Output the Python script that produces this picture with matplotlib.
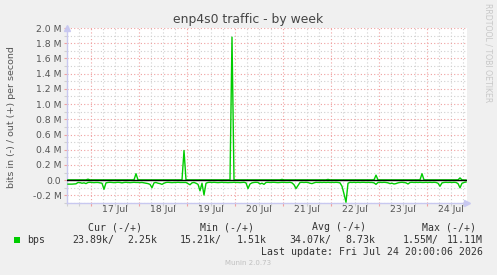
"""
Munin: enp4s0 traffic - by week
"""
import matplotlib
matplotlib.use('Agg')
import matplotlib.pyplot as plt
import numpy as np
from matplotlib.patches import Rectangle

# hourly averages from Jul 16 12:00 to Jul 24 20:00, kbit/s
in_k = [
    52, 52, 52, 50, 48, 30, 32, 40, 35, 45,
    30, 28, 30, 32, 30, 30, 35, 40, 120, 35,
    30, 28, 30, 32, 30, 28, 30, 35, 30, 28,
    30, 32, 30, 28, 30, 30, 32, 30, 35, 40,
    45, 55, 100, 35, 30, 40, 45, 55, 40, 30,
    28, 30, 32, 30, 30, 28, 30, 30, 30, 30,
    45, 60, 35, 30, 40, 55, 140, 40, 195, 40,
    30, 28, 30, 28, 30, 32, 30, 28, 30, 30,
    32, 30, 30, 28, 30, 30, 32, 30, 28, 35,
    110, 50, 35, 30, 28, 30, 50, 40, 55, 30,
    28, 30, 28, 28, 30, 32, 30, 28, 28, 30,
    30, 28, 35, 60, 110, 70, 30, 28, 30, 28,
    30, 40, 45, 35, 28, 30, 28, 30, 28, 30,
    28, 30, 28, 30, 28, 30, 35, 80, 180, 290,
    40, 28, 30, 28, 30, 28, 30, 28, 28, 30,
    28, 30, 30, 35, 55, 30, 28, 30, 28, 30,
    35, 45, 40, 50, 45, 35, 30, 28, 30, 35,
    50, 30, 28, 30, 28, 30, 28, 30, 30, 28,
    30, 28, 30, 28, 30, 40, 80, 35, 30, 28,
    30, 28, 30, 28, 30, 45, 100, 40, 30, 24,
]
out_k = [
    4, 4, 4, 4, 4, 4, 4, 4, 4, 4,
    13, 4, 4, 4, 4, 4, 4, 4, 4, 4,
    4, 4, 4, 4, 4, 4, 4, 4, 4, 4,
    4, 4, 4, 4, 85, 4, 4, 4, 4, 4,
    4, 4, 4, 4, 4, 4, 4, 4, 4, 4,
    4, 4, 4, 4, 4, 4, 4, 4, 390, 4,
    4, 4, 4, 4, 4, 4, 4, 4, 4, 4,
    4, 4, 4, 4, 4, 4, 4, 4, 4, 4,
    4, 4, 1880, 4, 4, 4, 4, 4, 4, 4,
    4, 4, 4, 4, 4, 4, 4, 4, 4, 4,
    4, 4, 4, 4, 4, 4, 4, 10, 4, 4,
    4, 4, 4, 4, 4, 4, 4, 4, 4, 4,
    4, 4, 4, 4, 4, 4, 4, 4, 4, 4,
    10, 4, 4, 4, 4, 4, 4, 4, 4, 4,
    4, 4, 4, 4, 4, 4, 4, 4, 4, 4,
    4, 4, 4, 4, 66, 4, 4, 4, 4, 4,
    4, 4, 4, 4, 4, 4, 4, 4, 4, 4,
    4, 4, 4, 4, 4, 4, 4, 85, 4, 4,
    4, 4, 4, 4, 4, 4, 4, 4, 4, 4,
    4, 4, 4, 4, 4, 4, 30, 4, 2, 2,
]
day_labels = ['17 Jul', '18 Jul', '19 Jul', '20 Jul', '21 Jul', '22 Jul', '23 Jul', '24 Jul']
y_ticks = [-0.2e6, 0.0, 0.2e6, 0.4e6, 0.6e6, 0.8e6, 1.0e6, 1.2e6, 1.4e6, 1.6e6, 1.8e6, 2.0e6]
y_labels = ['-0.2 M', '0.0', '0.2 M', '0.4 M', '0.6 M', '0.8 M', '1.0 M', '1.2 M',
            '1.4 M', '1.6 M', '1.8 M', '2.0 M']
cols = ['Cur (-/+)', 'Min (-/+)', 'Avg (-/+)', 'Max (-/+)']
vals_in = ['23.89k/', '15.21k/', '34.07k/', '1.55M/']
vals_out = ['2.25k', '1.51k', '8.73k', '11.11M']

W, H = 497, 275
fig = plt.figure(figsize=(W / 100, H / 100), dpi=100, facecolor='#f0f0f0')
ax = fig.add_axes([67 / W, 1 - 203 / H, 400 / W, 175 / H])
ax.set_facecolor('white')

t = np.arange(len(in_k)) + 0.5
ax.set_xlim(0, 200)
ax.set_ylim(-0.3e6, 2.0e6)

# grid
minor_c = '#d0d0d0'
major_c = '#f0a0a0'
ax.set_yticks(y_ticks)
ax.set_yticklabels(y_labels)
ax.set_yticks(np.arange(-0.3e6, 2.01e6, 0.1e6), minor=True)
midnights = np.arange(12, 200, 24)
ax.set_xticks(midnights)
ax.set_xticklabels([])
ax.set_xticks(np.arange(0, 201, 6), minor=True)
ax.grid(which='minor', color=minor_c, linestyle=(0, (1, 2)), lw=0.8)
ax.grid(which='major', color=major_c, linestyle=(0, (1, 2)), lw=0.8)
ax.set_axisbelow(True)
ax.tick_params(axis='both', which='both', length=2, width=0.8, labelsize=6.7,
               labelcolor='#555555', pad=2)
ax.tick_params(axis='x', which='major', color=major_c)
ax.tick_params(axis='x', which='minor', color=minor_c)
ax.tick_params(axis='y', which='major', color=major_c)
ax.tick_params(axis='y', which='minor', color=minor_c)

for i, lab in enumerate(day_labels):
    ax.text(24 * (i + 1), -0.012, lab, transform=ax.get_xaxis_transform(),
            ha='center', va='top', fontsize=6.7, color='#555555')

# data
ax.plot(t, -np.array(in_k) * 1e3, color='#00cc00', lw=1, zorder=3)
ax.plot(t, np.array(out_k) * 1e3, color='#00cc00', lw=1, zorder=3)
ax.axhline(0, color='black', lw=1, zorder=4)

for s in ['top', 'right']:
    ax.spines[s].set_visible(False)
for s in ['left', 'bottom']:
    ax.spines[s].set_color('#c8c8f0')
    ax.spines[s].set_linewidth(1)
ax.plot([0], [1.0], marker='^', color='#c8c8f0', ms=4, transform=ax.transAxes, clip_on=False)
ax.plot([1.0], [0], marker='>', color='#c8c8f0', ms=4, transform=ax.transAxes, clip_on=False)

# texts
fig.text(248.5 / W, 1 - 19 / H, 'enp4s0 traffic - by week', ha='center', va='center',
         fontsize=8.9, color='#444444')
fig.text(12 / W, 1 - 117 / H, 'bits in (-) / out (+) per second', rotation=90,
         ha='center', va='center', fontsize=6.8, color='#555555')
fig.text(488 / W, 1 - 53 / H, 'RRDTOOL / TOBI OETIKER', rotation=270,
         ha='center', va='center', fontsize=5.6, color='#c8c8c8')

mono = 'DejaVu Sans Mono'
fs = 7.15
col_x = [115.5, 227.5, 338.5, 449.5]
in_end = [114, 222, 331, 439]
out_end = [157, 267, 375, 483]
for i in range(4):
    fig.text(col_x[i] / W, 1 - 227.5 / H, cols[i], ha='center', va='center',
             family=mono, fontsize=fs, color='#333333')
    fig.text(in_end[i] / W, 1 - 240 / H, vals_in[i], ha='right', va='center',
             family=mono, fontsize=fs, color='#333333')
    fig.text(out_end[i] / W, 1 - 240 / H, vals_out[i], ha='right', va='center',
             family=mono, fontsize=fs, color='#333333')
fig.patches.append(Rectangle((14 / W, 1 - 243 / H), 6 / W, 6 / H, transform=fig.transFigure,
                             facecolor='#00cc00', edgecolor='none'))
fig.text(27 / W, 1 - 240 / H, 'bps', ha='left', va='center', family=mono, fontsize=fs,
         color='#333333')
fig.text(483 / W, 1 - 252 / H, 'Last update: Fri Jul 24 20:00:06 2026', ha='right',
         va='center', family=mono, fontsize=fs, color='#333333')
fig.text(248 / W, 1 - 263 / H, 'Munin 2.0.73', ha='center', va='center', fontsize=5,
         color='#c0c0c0')

plt.savefig('out.png', dpi=100, facecolor=fig.get_facecolor())
